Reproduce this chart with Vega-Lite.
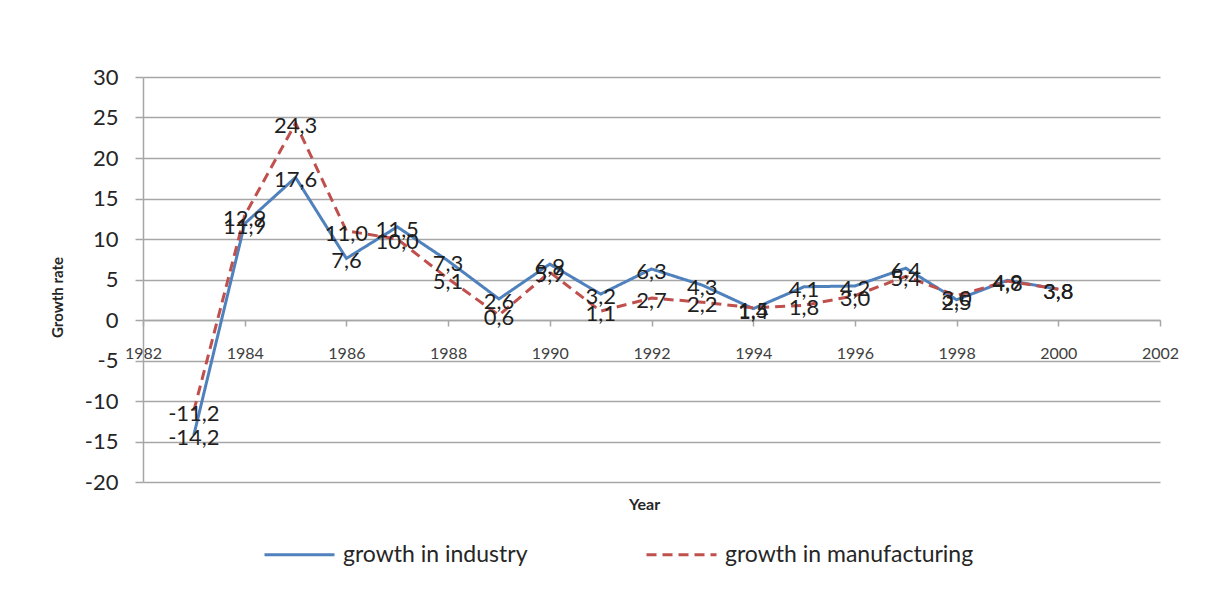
{
  "$schema": "https://vega.github.io/schema/vega-lite/v6.json",
  "width": 1017,
  "height": 405,
  "autosize": {"type": "none"},
  "padding": {"left": 143, "top": 77, "right": 49, "bottom": 113},
  "background": "white",
  "config": {
    "locale": {"number": {"decimal": ",", "thousands": ".", "grouping": [3], "currency": ["", ""], "minus": "-"}},
    "font": "Lato",
    "view": {"stroke": null}
  },
  "data": {
    "values": [
      {"year": 1983, "series": "growth in industry", "value": -14.2},
      {"year": 1984, "series": "growth in industry", "value": 11.9},
      {"year": 1985, "series": "growth in industry", "value": 17.6},
      {"year": 1986, "series": "growth in industry", "value": 7.6},
      {"year": 1987, "series": "growth in industry", "value": 11.5},
      {"year": 1988, "series": "growth in industry", "value": 7.3},
      {"year": 1989, "series": "growth in industry", "value": 2.6},
      {"year": 1990, "series": "growth in industry", "value": 6.9},
      {"year": 1991, "series": "growth in industry", "value": 3.2},
      {"year": 1992, "series": "growth in industry", "value": 6.3},
      {"year": 1993, "series": "growth in industry", "value": 4.3},
      {"year": 1994, "series": "growth in industry", "value": 1.4},
      {"year": 1995, "series": "growth in industry", "value": 4.1},
      {"year": 1996, "series": "growth in industry", "value": 4.2},
      {"year": 1997, "series": "growth in industry", "value": 6.4},
      {"year": 1998, "series": "growth in industry", "value": 2.5},
      {"year": 1999, "series": "growth in industry", "value": 4.9},
      {"year": 2000, "series": "growth in industry", "value": 3.8},
      {"year": 1983, "series": "growth in manufacturing", "value": -11.2},
      {"year": 1984, "series": "growth in manufacturing", "value": 12.9},
      {"year": 1985, "series": "growth in manufacturing", "value": 24.3},
      {"year": 1986, "series": "growth in manufacturing", "value": 11.0},
      {"year": 1987, "series": "growth in manufacturing", "value": 10.0},
      {"year": 1988, "series": "growth in manufacturing", "value": 5.1},
      {"year": 1989, "series": "growth in manufacturing", "value": 0.6},
      {"year": 1990, "series": "growth in manufacturing", "value": 5.9},
      {"year": 1991, "series": "growth in manufacturing", "value": 1.1},
      {"year": 1992, "series": "growth in manufacturing", "value": 2.7},
      {"year": 1993, "series": "growth in manufacturing", "value": 2.2},
      {"year": 1994, "series": "growth in manufacturing", "value": 1.5},
      {"year": 1995, "series": "growth in manufacturing", "value": 1.8},
      {"year": 1996, "series": "growth in manufacturing", "value": 3.0},
      {"year": 1997, "series": "growth in manufacturing", "value": 5.4},
      {"year": 1998, "series": "growth in manufacturing", "value": 3.0},
      {"year": 1999, "series": "growth in manufacturing", "value": 4.8},
      {"year": 2000, "series": "growth in manufacturing", "value": 3.8}
    ]
  },
  "encoding": {
    "x": {
      "field": "year",
      "type": "quantitative",
      "scale": {"domain": [1982, 2002], "nice": false, "zero": false},
      "axis": {
        "values": [1982, 1984, 1986, 1988, 1990, 1992, 1994, 1996, 1998, 2000, 2002],
        "format": "d",
        "grid": false,
        "offset": -162,
        "domainColor": "#a6a6a6",
        "domainWidth": 1.5,
        "tickColor": "#a6a6a6",
        "tickSize": 6,
        "tickWidth": 1.5,
        "labelFont": "Lato",
        "labelFontSize": 16,
        "labelColor": "#404040",
        "labelPadding": 19,
        "labelFlush": false,
        "title": "Year",
        "titleFont": "Lato",
        "titleFontSize": 16,
        "titleFontWeight": "bold",
        "titleColor": "#262626",
        "titleX": 501,
        "titleY": 184,
        "titleBaseline": "middle"
      }
    },
    "y": {
      "field": "value",
      "type": "quantitative",
      "scale": {"domain": [-20, 30], "nice": false, "zero": false},
      "axis": {
        "values": [-20, -15, -10, -5, 0, 5, 10, 15, 20, 25, 30],
        "grid": true,
        "gridColor": "#a6a6a6",
        "gridWidth": 1.5,
        "domainColor": "#a6a6a6",
        "domainWidth": 1.5,
        "tickColor": "#a6a6a6",
        "tickSize": 8,
        "tickWidth": 1.5,
        "labelFont": "Lato",
        "labelFontSize": 22,
        "labelColor": "#262626",
        "labelPadding": 17,
        "title": "Growth rate",
        "titleFont": "Lato",
        "titleFontSize": 15,
        "titleFontWeight": "bold",
        "titleColor": "#262626",
        "titleX": -86,
        "titleY": 220,
        "titleAlign": "center",
        "titleBaseline": "middle"
      }
    }
  },
  "layer": [
    {
      "mark": {"type": "line", "strokeWidth": 3, "strokeCap": "butt", "strokeJoin": "miter"},
      "encoding": {
        "color": {
          "field": "series",
          "type": "nominal",
          "scale": {"domain": ["growth in industry", "growth in manufacturing"], "range": ["#4f81bd", "#c0504d"]},
          "legend": {
            "title": null,
            "orient": "none",
            "direction": "horizontal",
            "legendX": 120,
            "legendY": 441,
            "symbolType": "stroke",
            "symbolSize": 4900,
            "symbolStrokeWidth": 3,
            "labelFont": "Lato",
            "labelFontSize": 23,
            "labelColor": "#262626",
            "labelOffset": 7,
            "labelLimit": 400,
            "columnPadding": 112
          }
        },
        "strokeDash": {
          "field": "series",
          "type": "nominal",
          "scale": {"domain": ["growth in industry", "growth in manufacturing"], "range": [[1, 0], [10, 6]]},
          "legend": {
            "title": null,
            "orient": "none",
            "direction": "horizontal",
            "legendX": 120,
            "legendY": 441,
            "symbolType": "stroke",
            "symbolSize": 4900,
            "symbolStrokeWidth": 3,
            "labelFont": "Lato",
            "labelFontSize": 23,
            "labelColor": "#262626",
            "labelOffset": 7,
            "labelLimit": 400,
            "columnPadding": 112
          }
        }
      }
    },
    {
      "mark": {"type": "text", "font": "Lato", "fontSize": 22, "color": "#1f1f1f", "align": "center", "baseline": "middle", "dy": 3},
      "encoding": {
        "text": {"field": "value", "type": "quantitative", "format": ".1f"}
      }
    }
  ]
}
